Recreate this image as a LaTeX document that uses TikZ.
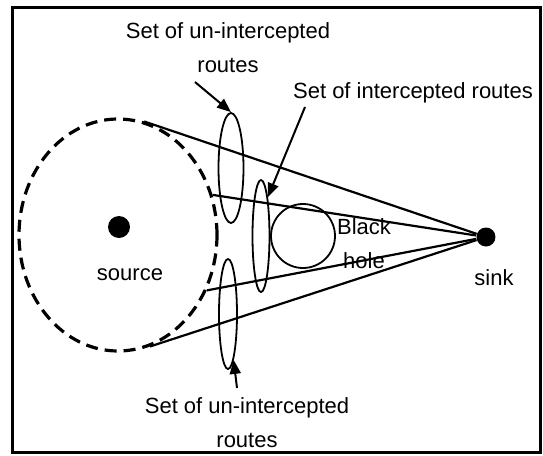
\documentclass[tikz,border=0pt]{standalone}
\usepackage{fontspec}
\setmainfont{Liberation Sans}
\usepackage{tikz}
\usetikzlibrary{positioning,arrows.meta,shapes.geometric}

\begin{document}
\begin{tikzpicture}[
    x=0.5pt, y=-0.5pt,
    frame/.style={line width=1.5pt},
    region/.style={draw, ellipse, dashed, line width=1.6pt,
        dash pattern=on 6pt off 3.5pt, inner sep=0pt,
        minimum width=99pt, minimum height=116pt},
    routeset/.style={draw, ellipse, line width=0.9pt, inner sep=0pt},
    dot/.style={circle, fill=black, inner sep=0pt},
    route/.style={line width=1.1pt},
    pointer/.style={-{Triangle[length=7pt, width=5.5pt]}, line width=1pt},
    lbl/.style={font=\fontsize{11}{17}\selectfont, align=center, inner sep=0pt}
]
\useasboundingbox (0,0) rectangle (543,456);

% ---- Frame ----
\draw[frame] (13,7) rectangle (541,452);

% ---- Source side ----
\node[region] (area) at (118,235) {};
\node[dot, minimum size=11pt] (source) at (119,227) {};
\node[lbl, below=15pt of source, xshift=5.5pt] (sourcetxt) {source};

% ---- Sink ----
\node[dot, minimum size=9.5pt] (sink) at (486,237) {};
\node[lbl, below=11pt of sink, xshift=4pt] (sinktxt) {sink};

% ---- Black hole ----
\node[draw, circle, line width=0.9pt, minimum size=32pt, inner sep=0pt] (hole) at (303,236) {};
\node[lbl] (holetxt) at (364,244) {Black\\hole};

% ---- Route sets ----
\node[routeset, minimum width=12.5pt, minimum height=55pt] (upset) at (231,168) {};
\node[routeset, minimum width=8.5pt, minimum height=56pt] (midset) at (261,236) {};
\node[routeset, minimum width=9pt, minimum height=55pt] (lowset) at (228,314) {};

% Routes from source region to sink
\draw[route] (area.77) -- (sink);
\draw[route] (area.23) -- (sink);
\draw[route] (area.-32) -- (sink);
\draw[route] (area.-74) -- (sink);

% ---- Labels ----
\node[lbl] (uptxt) at (228,48) {Set of un-intercepted\\routes};
\node[lbl] (midtxt) at (413,93) {Set of intercepted routes};
\node[lbl] (lowtxt) at (247,423) {Set of un-intercepted\\routes};

\coordinate (uptail) at (195,82);
\coordinate (midtail) at (305,107);
\coordinate (lowtail) at (237,388);

% Pointers
\draw[pointer] (uptail) -- (upset.north);
\draw[pointer] (midtail) -- (midset.80);
\draw[pointer] (lowtail) -- (lowset.-83);
\end{tikzpicture}
\end{document}
